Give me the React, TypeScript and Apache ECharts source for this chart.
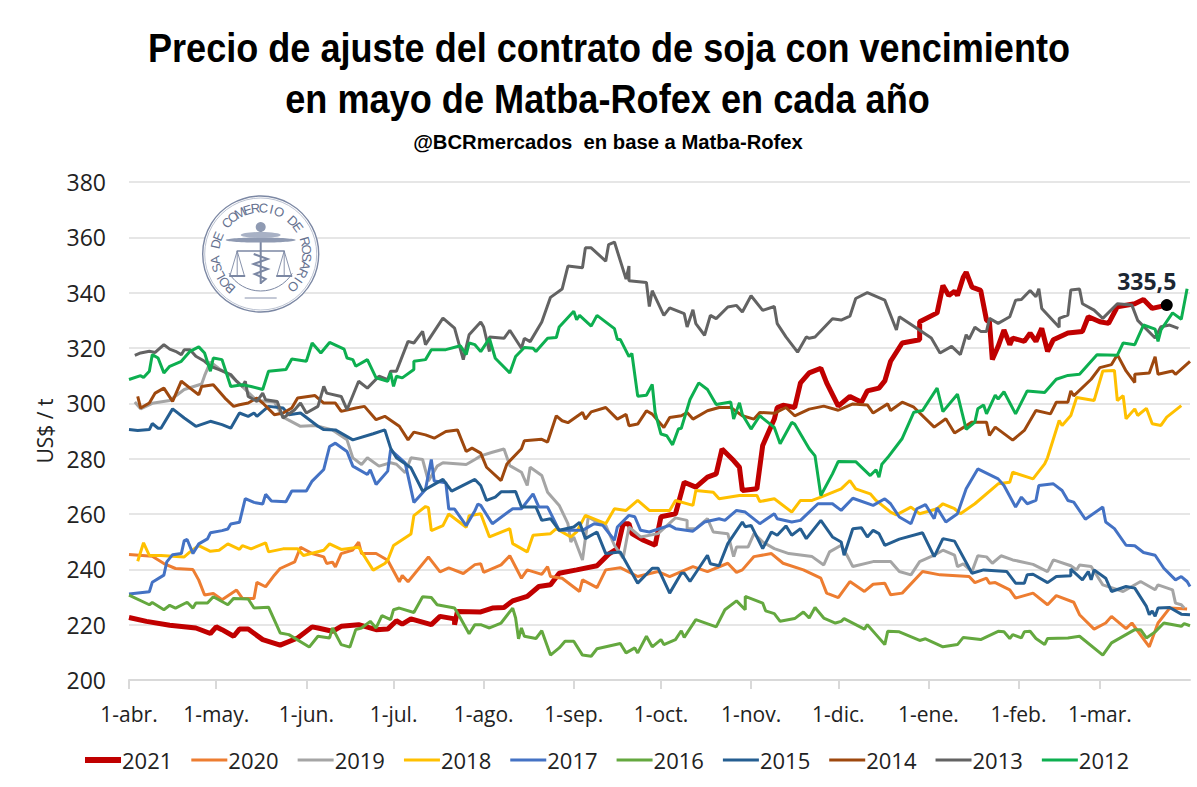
import React, { useEffect, useRef } from "react";
import * as echarts from "echarts";

const titleLine1 = "Precio de ajuste del contrato de soja con vencimiento";
const titleLine2 = "en mayo de Matba-Rofex en cada año";
const subtitle = "@BCRmercados  en base a Matba-Rofex";
const monthNames = ["abr", "may", "jun", "jul", "ago", "sep", "oct", "nov", "dic", "ene", "feb", "mar"];
const monthLengths = [30, 31, 30, 31, 31, 30, 31, 30, 31, 31, 28, 31];
const seriesNames = ["2021", "2020", "2019", "2018", "2017", "2016", "2015", "2014", "2013", "2012"];
const seriesColors = ["#C00000", "#ED7D31", "#A5A5A5", "#FFC000", "#4472C4", "#64A83F", "#255E91", "#9E480E", "#636363", "#0DAF50"];
const lastPoint = [357, 335.5];

const s2021 = [[0,222.6],[6,221.2],[14,219.8],[23,218.8],[28,216.8],[30,219.2],[32,218.2],[36,215.8],[38,218.4],[41,218.4],[46,214.6],[52,212.6],[58,215.2],[63,219.2],[65,218.8],[70,217.6],[73,219.4],[79,220],[85,218.2],[89,218.4],[92,221.4],[94,220.2],[97,222.1],[104,220],[107,223],[112,222.1],[112,220],[113,224.8],[121,224.6],[125,226],[129,226.2],[132,228.6],[137,230.2],[141,233.8],[145,234.4],[148,238.6],[154,239.8],[161,241.3],[165,245.5],[168,247.5],[170,256.5],[172,256.5],[173,252.9],[177,250.5],[181,248.7],[183,259],[188,260.1],[191,271.5],[195,269.7],[199,273.3],[202,274.5],[204,283.5],[208,279.3],[210,276.9],[211,268.5],[216,269.1],[218,284.8],[222,294.3],[223,298.5],[225,299.3],[229,298.5],[231,307.4],[234,311],[238,312.7],[240,307.4],[244,299],[248,302.5],[252,300.4],[254,304.5],[258,305.5],[260,308.1],[262,315.2],[266,321.8],[272,323],[272,329.5],[278,332.7],[280,342.6],[282,339],[284,340.5],[285,339],[287,345.6],[288,347.4],[290,342],[293,340.8],[295,330],[296,329.5],[297,315.8],[299,320.6],[301,326.5],[303,321.2],[304,323.6],[308,322.4],[310,325.4],[312,322.4],[314,327.1],[316,318.8],[318,323],[323,325.4],[328,326],[330,331.3],[334,329.5],[337,328.9],[340,334.9],[346,336],[349,337.5],[352,334.3],[357,335.5]];
const s2020 = [[0,245.4],[8,244.7],[12,242.1],[16,240.3],[22,239.9],[24,236.1],[26,230.7],[29,231.3],[32,229],[37,232.5],[39,229.5],[43,229.5],[44,235.3],[47,233.7],[50,237.9],[52,240.3],[57,242.7],[59,248],[63,245.7],[67,244.5],[68,242.1],[70,242.6],[71,240.9],[73,245.7],[77,247],[79,249.8],[80,245.7],[85,245.7],[89,243.3],[93,235.5],[94,237.8],[96,235.5],[103,244.5],[107,239.1],[110,240.5],[115,238.5],[119,241.7],[121,242],[122,238.9],[128,241.6],[131,244.9],[135,236.8],[137,239.8],[142,238.2],[144,241],[145,237.4],[149,236.8],[155,232],[156,236.2],[161,233.4],[164,239.8],[169,240.6],[175,237.4],[182,239.2],[186,237.4],[194,241],[199,239.2],[206,242.2],[209,238.9],[211,239.8],[215,244.6],[221,245.7],[225,242.2],[232,239.8],[238,236.8],[240,231.4],[244,229.8],[248,235.6],[253,232],[256,234.6],[260,235],[262,230.8],[266,231.4],[273,239.2],[279,238],[289,237.4],[291,235.2],[295,236.8],[296,235],[298,235.2],[303,232.6],[305,229.6],[311,231.4],[316,227.2],[319,230.5],[325,228.1],[327,223.6],[332,218.4],[336,220.6],[338,223],[343,218.6],[345,220.6],[351,212],[354,220.6],[358,226],[364,225.7]];
const s2019 = [[2,300.5],[4,298],[8,300],[14,301],[19,305],[22,306],[25,307],[26,310],[28,315],[31,312.5],[35,310],[40,305],[44,301],[50,300.5],[53,295],[59,291.7],[64,292],[70,290.4],[75,286.8],[77,280.3],[80,277.9],[82,280.3],[86,277.3],[90,278.5],[92,278],[95,274.9],[97,280.3],[101,279.7],[103,271.9],[106,277.3],[108,278.5],[116,277.9],[119,279.7],[121,281],[125,282.3],[129,283.5],[131,277.5],[135,275.1],[137,270.3],[138,276.9],[142,273.9],[144,267.9],[148,263.1],[151,256.5],[152,249.9],[153,251.7],[156,243.4],[158,258.9],[160,257.7],[164,255.9],[167,248.7],[170,244],[172,255.3],[176,251.7],[182,252.9],[188,258.6],[192,257.7],[192,254.7],[195,254.7],[199,258.3],[201,253.5],[206,252.9],[208,244.6],[209,248.1],[213,248.1],[215,252.9],[218,249.9],[222,247.5],[227,245.7],[235,244.6],[239,241.6],[241,246.3],[245,248.7],[247,245.1],[249,241],[256,242.8],[262,242.8],[265,239.2],[269,238],[272,242.8],[277,245.1],[280,246.9],[284,245.1],[285,241],[287,242],[290,239.2],[292,244.9],[295,244.5],[297,242.2],[300,244.9],[304,243.4],[311,241.8],[316,239.2],[318,243.4],[324,241.3],[326,239.8],[327,241.6],[331,241],[335,234.4],[342,232],[348,235.6],[353,232.6],[354,234.4],[359,232.6],[360,227.8],[362,227.2],[363,226]];
const s2018 = [[3,242.9],[5,249.6],[7,245],[11,245],[19,244.5],[21,246.3],[24,248.6],[28,246.5],[31,246.9],[34,249.2],[38,247.2],[39,248.6],[42,247.4],[47,249.6],[48,246.3],[53,247.4],[58,247.4],[60,245],[67,246.9],[69,249.2],[73,247.2],[79,248],[84,239.7],[88,242.1],[89,243.3],[91,248.6],[97,252.8],[98,259.4],[102,262.7],[103,262.3],[104,254],[108,255.8],[110,260],[116,255.2],[117,259.4],[121,260.1],[124,251.7],[131,254.7],[132,249.3],[137,246.3],[139,252.3],[145,252.9],[147,254.7],[152,251.7],[154,253.5],[157,259.5],[164,256.5],[167,261.9],[171,261.3],[175,264.9],[179,261.3],[186,261.3],[188,264.9],[194,263.1],[195,268.5],[201,267.9],[203,265.5],[210,266.7],[216,266.7],[217,264.5],[222,265.5],[228,260.7],[231,264.9],[235,264.9],[238,266.1],[245,269.1],[248,272.1],[250,269.1],[255,267.3],[257,264.9],[262,260.7],[264,259.7],[269,262.5],[272,260.1],[278,261.9],[280,263.7],[284,261.9],[286,260.1],[291,263.7],[299,270.9],[303,271.5],[304,275.1],[311,272.7],[315,278.1],[316,280.4],[320,293.8],[321,292],[324,295.6],[326,302.1],[332,301],[335,311.7],[339,311.9],[340,301],[342,302.8],[343,294.4],[346,298],[347,295.6],[350,298.2],[352,292.6],[355,292],[357,295],[362,299.2]];
const s2017 = [[0,231.1],[7,231.9],[8,235.3],[12,237.9],[13,242.7],[15,245.3],[18,245.7],[19,250.4],[20,250.8],[22,245.7],[24,249.2],[27,251],[28,253.2],[32,254],[34,254.6],[35,256.4],[38,257],[40,265.6],[43,264.2],[46,263.6],[47,267.1],[49,264.7],[54,264.4],[56,268.3],[61,268.3],[63,271.9],[67,276.1],[69,284.4],[71,285.6],[75,282.6],[77,277.3],[82,274.3],[83,276],[85,270.7],[89,275.5],[90,283.2],[95,278.5],[98,264.2],[102,268.9],[104,279.7],[105,271.9],[109,271.3],[110,261.8],[112,261.8],[116,255.8],[119,261.2],[120,263.6],[121,263.1],[125,256.5],[132,261.9],[135,261.9],[139,267.3],[141,262.5],[144,262.5],[148,254.1],[156,254.1],[160,256.5],[163,255.9],[167,250.5],[168,255.3],[172,259.5],[174,259],[176,254.1],[179,253.5],[186,255.9],[188,254.7],[194,253.8],[198,257.1],[203,258.3],[205,257.7],[209,261.3],[212,260.7],[217,256.5],[222,260.1],[223,258.3],[228,257.1],[231,257.7],[237,263.7],[242,263.7],[245,261.3],[249,265.7],[256,263.1],[260,265.5],[262,263.7],[265,258.9],[269,256.5],[271,261.9],[274,263.4],[277,258.3],[278,262.2],[281,257.1],[285,260.1],[288,269.1],[292,276.3],[299,272.7],[301,270.3],[305,262.5],[307,266.1],[309,263.7],[312,264.9],[313,270.3],[318,270.9],[321,268.5],[323,264.9],[325,264.3],[329,258.1],[335,262.5],[336,257.1],[339,254.7],[343,248.7],[346,248.5],[349,246.1],[353,245.1],[356,240.4],[360,236.2],[362,237.4],[364,235.6],[365,233.8]];
const s2016 = [[0,230.7],[7,227.2],[8,228],[12,225.4],[14,227],[16,226],[20,228.1],[22,226],[23,227.8],[27,227.8],[29,230.1],[34,227.2],[36,229.5],[41,229.3],[43,226],[48,226.3],[52,217],[55,216.4],[62,211.9],[65,215.8],[69,215.2],[70,218.8],[73,212.8],[76,211.9],[78,218.2],[80,218.8],[83,221.2],[85,218.8],[87,223.3],[90,221.8],[91,225.4],[93,226],[98,224.4],[101,230.1],[104,229.8],[106,227.2],[112,226],[114,222.4],[117,216.7],[119,220],[121,220],[124,218.8],[128,220.6],[132,226],[133,222.4],[134,214.9],[135,218.8],[136,215.8],[140,215],[142,217.8],[145,209],[148,211.6],[150,214],[153,214],[156,209],[159,208.6],[161,211.3],[169,213.2],[171,209.8],[174,211.6],[175,209.8],[178,215.8],[180,212],[183,214.6],[184,212.8],[188,214.6],[190,217.8],[191,215.4],[195,221.8],[202,219.2],[205,225.4],[209,228.6],[212,225.4],[212,230.2],[218,227.8],[219,225],[222,224],[224,221.2],[229,222.2],[232,224.6],[234,222.4],[236,226.2],[239,222.4],[243,220.6],[245,221.2],[246,222.2],[253,218.4],[254,220],[257,216.4],[260,212.8],[261,217.6],[265,217.4],[272,214.3],[274,214.9],[280,212],[285,212.8],[287,215.4],[293,214.6],[299,217.6],[301,217.4],[303,215],[304,216.4],[307,215.2],[308,217.4],[310,217.6],[312,215],[315,212.8],[316,215],[323,215.2],[327,215.8],[335,209],[338,213.4],[346,218.2],[348,218.2],[350,215.2],[353,217.4],[356,220.6],[362,219.4],[363,220.4],[365,219.6]];
const s2015 = [[0,290.5],[3,290.2],[7,290.5],[8,292.7],[10,291],[11,291],[15,298],[19,294.7],[23,291.7],[28,293.5],[32,292.3],[35,291],[38,296.5],[41,295.3],[43,296.5],[44,295.3],[46,297.1],[48,298.9],[53,298.3],[55,295.9],[59,296.5],[65,291.7],[67,290.5],[71,290.4],[77,286.8],[84,289],[88,290.4],[90,283.8],[92,280.3],[97,276.7],[101,268.3],[105,270.7],[108,272.5],[111,268.3],[119,272.5],[121,270.3],[123,264.9],[126,266.1],[128,268],[133,268.1],[135,262.5],[140,262.5],[142,257.7],[145,258.3],[148,254.1],[153,255.3],[155,257],[157,251.1],[161,253.5],[164,245.7],[169,246.3],[175,235],[180,240.4],[182,240.4],[186,231.4],[190,238.6],[191,238.6],[193,235.6],[199,245.1],[200,242],[203,241.3],[206,249.3],[211,257.1],[212,255.4],[214,255.9],[218,247.5],[221,253.5],[223,252.3],[226,255.7],[228,252.3],[231,254.7],[233,251.1],[238,257.7],[242,251.7],[245,249.9],[246,245.1],[249,254.7],[252,255],[254,251.7],[256,254.1],[258,252.9],[260,248.7],[265,250.9],[273,253.2],[277,244.6],[280,251.1],[284,250.2],[290,238.6],[294,239.8],[302,239.2],[305,235],[308,235],[309,238],[311,238.2],[316,235.2],[319,237.4],[324,237.7],[324,240.1],[328,236.2],[330,239.2],[331,236.2],[332,239.8],[336,236.8],[338,232],[343,233.8],[346,233.2],[350,226.6],[351,223.6],[352,225],[353,223],[354,226],[358,226.2],[362,223.8],[365,223.6]];
const s2014 = [[3,302.5],[4,298.3],[7,300.1],[9,303.7],[12,305.5],[15,300.7],[18,308],[21,305.5],[24,303.1],[25,306.1],[29,306.7],[33,301.9],[36,298.9],[38,299.5],[41,300.1],[44,301.9],[46,300.1],[50,295.9],[53,296.5],[56,298.3],[58,301.9],[64,302.8],[67,300.1],[71,300.1],[73,297.1],[78,298.3],[81,298.9],[85,294.1],[88,295.3],[93,291.7],[96,286.8],[98,289.6],[102,288.6],[105,287.4],[109,289.8],[113,290.4],[116,282.6],[118,283.8],[121,282],[123,276.9],[128,272.1],[130,278.1],[135,283.6],[136,286.5],[142,287],[144,286],[147,295.5],[149,293.7],[151,293],[156,296.7],[157,294.3],[159,296.9],[164,298.5],[168,294.3],[171,296],[172,291.9],[175,292.5],[178,297.3],[180,296.1],[184,291.3],[186,294.9],[190,295.5],[192,296.7],[194,294.3],[199,297.3],[203,298.5],[207,298.5],[211,295.5],[215,294.3],[217,296.7],[222,296.4],[226,298.5],[229,295.5],[234,297.9],[239,299],[244,297.5],[249,299.8],[254,299.4],[256,296.5],[261,299.8],[262,297.4],[266,300.4],[270,298.6],[277,291.4],[281,294.4],[284,289.3],[290,293.2],[295,293.2],[296,288.4],[298,291.4],[304,286.7],[308,290.2],[312,297.4],[317,296.2],[319,300.4],[323,300.4],[324,304.5],[325,302.7],[331,308.7],[334,312.9],[338,314],[340,317.6],[343,311.7],[346,307.5],[346,310.5],[351,311],[353,316.8],[354,310.5],[359,311.7],[360,310.5],[365,315.2]];
const s2013 = [[2,317.3],[4,318.2],[7,318.8],[9,318.4],[12,321.2],[14,319.6],[16,318.8],[18,317.6],[19,319.4],[21,319.4],[23,317],[26,315.2],[28,313.4],[31,312.2],[35,310.4],[37,308],[39,306.1],[40,308],[41,302.5],[44,300.7],[46,303.7],[47,301.3],[51,300.7],[53,294.7],[57,297.7],[59,300.1],[61,296.5],[65,298.9],[67,306.1],[68,303.7],[73,302.5],[75,297.7],[79,308],[82,305.5],[86,309.8],[89,308.6],[90,311.6],[92,311.6],[96,322.4],[98,321.8],[101,326],[102,321.2],[108,330.8],[112,327.2],[115,315.8],[117,324.8],[121,329.4],[122,327.6],[124,318.7],[124,324],[129,323.5],[131,326.4],[135,319.9],[136,323.5],[138,322.3],[142,329.4],[145,338.3],[149,341.3],[151,349.6],[156,349],[157,356.2],[159,356.2],[164,351.4],[165,357.4],[167,358.3],[171,344.9],[172,349.6],[172,344.3],[178,343.7],[179,335],[180,340.7],[184,331.8],[186,334.5],[191,332.4],[192,327.6],[194,333.8],[195,328.8],[198,324.6],[200,331.8],[202,330.6],[206,334.8],[209,335.4],[211,333],[214,338.9],[218,333.6],[222,335],[223,328.8],[226,324],[230,318.5],[233,324],[234,323.5],[236,324],[242,330.6],[245,330.1],[248,331.5],[250,337.9],[254,340],[260,337.3],[264,326.5],[265,331.3],[271,327.1],[276,323.6],[279,318.2],[283,320.6],[286,317.6],[288,324.8],[289,323.2],[291,327.5],[293,326],[295,326],[296,330.7],[299,328.9],[303,331.3],[305,337.3],[307,337.5],[310,340.8],[312,338.5],[313,341.4],[314,334.3],[320,327.5],[320,330.7],[323,331.9],[324,341],[327,341.3],[328,336],[332,333.7],[335,330.7],[340,336],[345,335.5],[347,330],[353,323.6],[355,327.7],[358,328.3],[361,327.1]];
const s2012 = [[0,308.6],[4,310],[5,309.3],[7,311.6],[8,317.6],[10,316.4],[12,311],[14,313.4],[18,315.2],[21,318.8],[24,320.4],[26,318.2],[28,311.6],[29,316.4],[32,315.8],[35,306.1],[39,306.7],[42,306.1],[46,305],[48,311.6],[54,312.2],[56,316],[61,315.2],[63,321.8],[66,318.2],[69,322],[74,319.6],[75,316.4],[77,315.8],[78,313.4],[82,315.8],[85,309.2],[89,308],[90,311],[91,306.1],[92,309.8],[94,309.2],[98,312.2],[98,315.2],[102,315.8],[104,319.4],[109,319.4],[114,320.8],[116,317.6],[117,321.8],[119,321.2],[121,318.7],[124,323.5],[126,316.3],[131,311],[133,316.9],[136,320.2],[139,319.9],[140,318.7],[144,323.5],[147,323.8],[148,327.6],[153,333.3],[154,330.2],[155,331.8],[159,327.9],[161,331.8],[167,327],[168,323.1],[169,323.1],[172,316.9],[173,318],[175,302.6],[178,302.9],[180,306.8],[181,296.7],[183,288.9],[185,288.3],[187,285],[189,290.7],[190,291],[193,301.4],[196,307.4],[199,305],[202,299.6],[207,300.5],[208,294.3],[210,300.2],[211,296],[214,290.7],[217,295.5],[222,291.3],[224,285.4],[228,293.1],[229,292.5],[234,283.6],[236,281],[238,266.7],[242,274.5],[244,279],[250,278.9],[255,273.9],[257,276],[258,273.3],[259,278],[261,280.4],[266,287.3],[270,296.8],[273,297.4],[278,305.5],[280,297],[285,303.3],[288,290.6],[291,293.2],[292,298],[294,299.4],[295,296.2],[298,303],[299,301.5],[301,304.2],[305,296.2],[309,304.5],[315,303.9],[319,308.7],[323,310.1],[327,310.5],[333,317.6],[340,317.4],[342,321.8],[346,321.2],[349,328.3],[353,326.8],[354,322.4],[355,326.5],[359,332.7],[362,330.4],[364,341.4]];

const allSeries = [s2021, s2020, s2019, s2018, s2017, s2016, s2015, s2014, s2013, s2012];

const sealColor = "#7b87a3";
const sealText = "BOLSA DE COMERCIO DE ROSARIO";

function fittedText(text: string, font: string, x: number, baseline: number, width: number) {
  const ctx = document.createElement("canvas").getContext("2d")!;
  ctx.font = font;
  const natural = ctx.measureText(text).width;
  return {
    type: "text",
    x,
    y: baseline,
    scaleX: width / natural,
    originX: 0,
    originY: 0,
    style: { text, font, fill: "#000000", textAlign: "center", textVerticalAlign: "bottom" },
    z: 5,
  };
}

function sealElements() {
  const cx = 260.7;
  const cy = 254;
  const els: any[] = [];
  const line = (x1: number, y1: number, x2: number, y2: number, w = 1) =>
    els.push({ type: "line", shape: { x1, y1, x2, y2 }, style: { stroke: sealColor, lineWidth: w }, z: 3 });
  els.push({ type: "circle", shape: { cx, cy, r: 58 }, style: { fill: "#fff", stroke: sealColor, lineWidth: 1.4 }, z: 3 });
  els.push({ type: "circle", shape: { cx, cy, r: 56 }, style: { fill: "#fff", stroke: "#aab2c5", lineWidth: 0.8 }, z: 3 });
  const n = sealText.length;
  for (let i = 0; i < n; i++) {
    const a = ((-138 + (273 * i) / (n - 1)) * Math.PI) / 180;
    els.push({
      type: "text",
      x: cx + 46 * Math.sin(a),
      y: cy - 46 * Math.cos(a),
      rotation: -a,
      style: { text: sealText[i], fill: "#65718f", font: "13px 'Liberation Sans'", textAlign: "center", textVerticalAlign: "middle" },
      z: 4,
    });
  }
  els.push({ type: "arc", shape: { cx, cy, r: 37, startAngle: 0.55, endAngle: 2.6 }, style: { stroke: sealColor, lineWidth: 1, fill: "none" }, z: 4 });
  line(cx - 16, cy + 44, cx + 16, cy + 44, 0.9);
  els.push({ type: "circle", shape: { cx, cy: cy - 27, r: 5 }, style: { fill: "#8f9ab2" }, z: 4 });
  els.push({ type: "ellipse", shape: { cx, cy: cy - 14, rx: 35, ry: 2.6 }, style: { fill: "#8f9ab2" }, z: 4 });
  els.push({ type: "ellipse", shape: { cx, cy: cy - 19, rx: 20, ry: 3 }, style: { fill: "#a8b1c5" }, z: 4 });
  line(cx, cy - 24, cx, cy + 30, 2);
  line(cx - 24, cy - 3, cx + 24, cy - 3, 1.4);
  els.push({ type: "polyline", shape: { points: [[cx - 7, cy], [cx + 7, cy + 5], [cx - 7, cy + 10], [cx + 7, cy + 15], [cx - 6, cy + 20], [cx + 5, cy + 25], [cx, cy + 29]] }, style: { stroke: sealColor, lineWidth: 2, fill: "none" }, z: 4 });
  [-23.5, 23.5].forEach((dx) => {
    const x = cx + dx;
    line(x, cy - 3, x - 7, cy + 21, 0.9);
    line(x, cy - 3, x + 7, cy + 21, 0.9);
    line(x - 8, cy + 22, x + 8, cy + 22, 2);
    line(x, cy - 3, x, cy + 21, 0.9);
  });
  return els;
}

const textColor = "#222222";
const axisFont = "Open Sans";
const thickIcon = "path://M0 0L36 0L36 6L0 6Z";
const thinIcon = "path://M0 0L36 0L36 0ZM0 1.5L36 1.5L36 4.5L0 4.5ZM0 6L36 6L36 6Z";

export default function App() {
  const ref = useRef<HTMLDivElement>(null);
  useEffect(() => {
    const chart = echarts.init(ref.current!, undefined, { renderer: "svg" });
    const categories: string[] = [];
    const ticks = new Set<number>();
    monthNames.forEach((m, i) => {
      ticks.add(categories.length);
      for (let d = 1; d <= monthLengths[i]; d++) categories.push(`${d}-${m}.`);
    });
    categories.push("");
    ticks.add(365);
    const isTick = (i: number) => ticks.has(i);

    chart.setOption({
      animation: false,
      backgroundColor: "#ffffff",
      grid: { left: 129, right: 7, top: 182, bottom: 107, containLabel: false },
      xAxis: {
        type: "category",
        boundaryGap: false,
        data: categories,
        axisLine: { lineStyle: { color: "#d9d9d9", width: 2 } },
        axisTick: { show: true, interval: isTick, length: 9, lineStyle: { color: "#d9d9d9", width: 2 } },
        axisLabel: { interval: isTick, margin: 23, fontFamily: axisFont, fontSize: 21, color: textColor, showMaxLabel: false },
        splitLine: { show: false },
      },
      yAxis: {
        type: "value",
        min: 200,
        max: 380,
        interval: 20,
        name: "US$ / t",
        nameLocation: "middle",
        nameRotate: 90,
        nameGap: 70,
        nameTextStyle: { fontFamily: axisFont, fontSize: 21, color: textColor },
        axisLine: { show: false },
        axisTick: { show: false },
        axisLabel: { margin: 23, fontFamily: axisFont, fontSize: 23, color: textColor },
        splitLine: { lineStyle: { color: "#e6e6e6", width: 2 } },
      },
      legend: {
        left: 85,
        top: 749,
        padding: 0,
        itemWidth: 36,
        itemHeight: 6,
        itemGap: 19,
        symbolKeepAspect: false,
        data: seriesNames.map((name, i) => ({ name, icon: i === 0 ? thickIcon : thinIcon })),
        textStyle: { fontFamily: axisFont, fontSize: 22, color: textColor, padding: [0, 0, 0, -4] },
      },
      graphic: {
        elements: [
          fittedText(titleLine1, "bold 40px 'Liberation Sans'", 609, 68, 922),
          fittedText(titleLine2, "bold 40px 'Liberation Sans'", 607.5, 119, 645),
          fittedText(subtitle, "bold 20.5px 'Liberation Sans'", 608, 152, 390),
          ...sealElements(),
        ],
      },
      series: seriesNames.map((name, i) => ({
        name,
        type: "line",
        symbol: "none",
        smooth: false,
        connectNulls: true,
        color: seriesColors[i],
        itemStyle: { color: seriesColors[i] },
        lineStyle: { color: seriesColors[i], width: i === 0 ? 5 : 3 },
        data: allSeries[i],
        ...(i === 0
          ? {
              markPoint: {
                symbol: "circle",
                symbolSize: 12,
                itemStyle: { color: "#000000" },
                z: 20,
                data: [{ coord: lastPoint, value: lastPoint[1] }],
                label: {
                  show: true,
                  position: "top",
                  offset: [-20, -2],
                  formatter: () => String(lastPoint[1]).replace(".", ","),
                  fontFamily: axisFont,
                  fontWeight: "bold",
                  fontSize: 23,
                  color: "#1c2733",
                },
              },
            }
          : {}),
      })),
    });
    return () => chart.dispose();
  }, []);
  return <div ref={ref} style={{ position: "absolute", left: 0, top: 0, width: 1197, height: 787 }} />;
}
